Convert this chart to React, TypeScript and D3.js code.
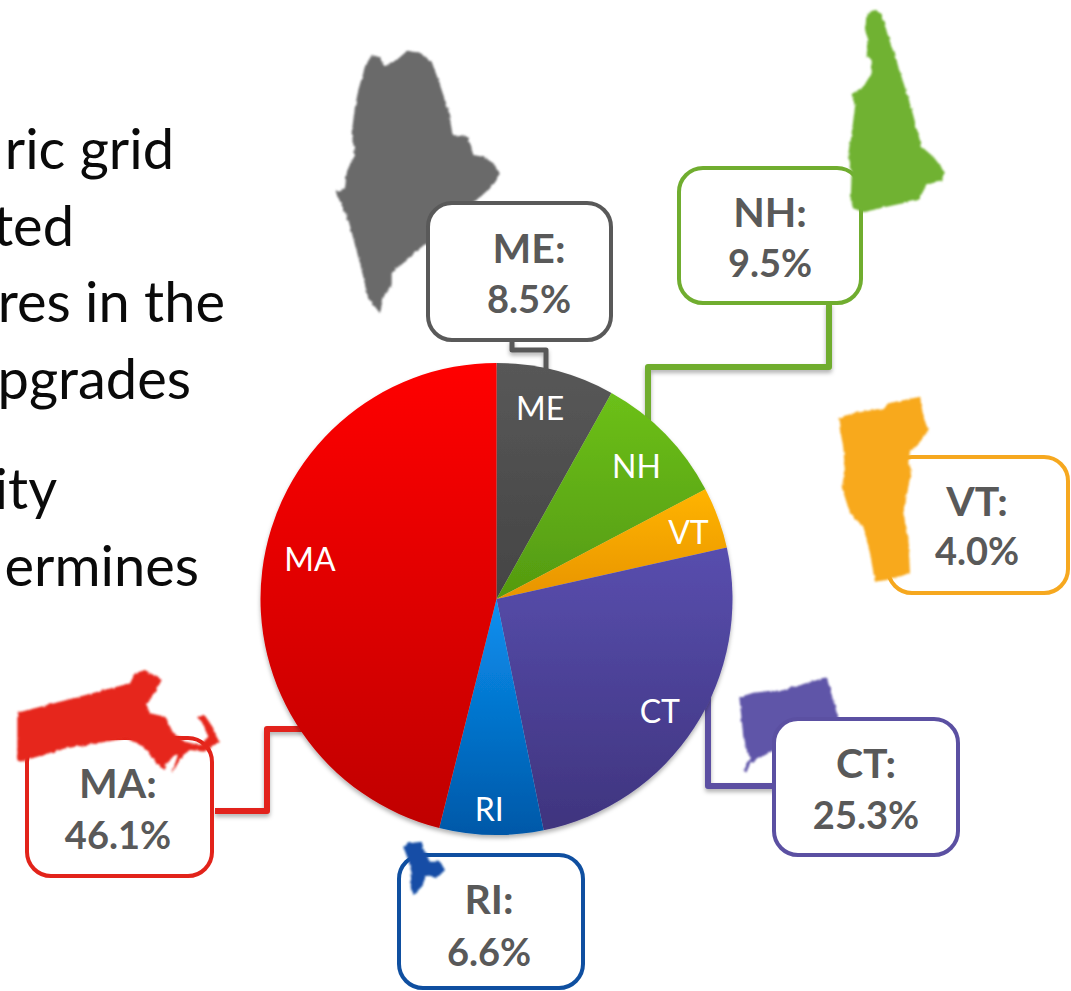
import React from "react";
import * as d3 from "d3";

const W = 1071;
const H = 991;

// chart values, clockwise from 12 o'clock
const states = ["ME", "NH", "VT", "CT", "RI", "MA"];
// slice sizes as drawn, measured off the slice edges (they differ a little from the printed labels)
const sliceValues = [8.1, 9.2, 4.2, 25.3, 7.1, 46.1];
const shareLabels = ["8.5%", "9.5%", "4.0%", "25.3%", "6.6%", "46.1%"];

// slice gradients and callout colours
const sliceTop = ["#585858", "#6cc01a", "#ffb400", "#584eae", "#0a90f0", "#ff0000"];
const sliceBottom = ["#444444", "#549a10", "#e89400", "#3f347e", "#0058a8", "#c00000"];
const lineColors = ["#595959", "#70ad2f", "#f6a81f", "#5b50a2", "#0f4fa0", "#e2231a"];
const mapColors = ["#6a6a6a", "#70b233", "#f8a91f", "#5f54a8", "#134ea6", "#e6261c"];

// callout boxes: x, y, w, h
const boxes = [
  [428, 203, 183, 137],
  [679, 168, 182, 135],
  [888, 457, 180, 136],
  [774, 719, 184, 136],
  [399, 855, 184, 133],
  [27, 738, 185, 138],
];
const boxCenters = [529, 770, 977, 866, 489, 118];
const nameBaselines = [263, 227, 516, 778, 914, 798];
const valueBaselines = [313, 277, 565, 829, 966, 849];
const mapOverBox = [false, true, true, false, true, true];

// leader lines from the pie to the box
const leaders: [number, number][][] = [
  [[512, 340], [512, 350], [546, 350], [546, 370]],
  [[829, 303], [829, 367], [648, 367], [648, 422]],
  [[722, 523], [872, 523]],
  [[708, 690], [708, 786], [778, 786]],
  [[489, 836], [489, 855]],
  [[215, 811], [267, 811], [267, 729], [302, 729]],
];
const leaderColors = ["#595959", "#70ad2f", "#f6a81f", "#5b50a2", "#1080d0", "#e2231a"];

// nudge of the in-pie labels away from the slice centroid
const labelNudge = [[-6, 0], [-1, 5], [7, 1], [-2, 5], [-3, 14], [9, -15]];

// state silhouettes, traced at 3x from the origin given in mapOrigins
const mapOrigins = [[320, 0], [820, 0], [820, 380], [700, 660], [380, 790], [0, 650]];
const mapOutlines: [number, number][][] = [
  [[155,165],[175,170],[195,197],[230,180],[262,152],[300,158],[335,185],[355,240],[385,330],[398,405],[445,412],[460,465],[490,470],[520,490],[540,520],[510,565],[470,600],[440,620],[415,650],[385,660],[375,690],[345,680],[335,720],[300,745],[270,770],[240,795],[215,820],[215,860],[190,890],[180,940],[145,895],[120,790],[85,660],[47,575],[75,565],[80,515],[105,465],[95,400],[105,320],[115,270],[135,200]],
  [[140,40],[165,30],[185,42],[205,110],[235,200],[270,310],[305,440],[340,470],[375,515],[365,540],[320,555],[295,600],[200,620],[130,637],[100,625],[92,600],[95,520],[85,460],[95,400],[105,320],[95,282],[130,260],[155,220],[155,180],[140,165],[145,120],[135,90]],
  [[55,115],[100,100],[190,85],[205,70],[300,50],[310,110],[325,150],[305,180],[270,215],[265,250],[275,270],[250,400],[265,470],[270,580],[200,600],[165,605],[150,520],[130,440],[90,400],[65,320],[75,280],[70,200],[60,150]],
  [[118,112],[160,98],[215,92],[230,95],[380,52],[415,175],[400,205],[320,235],[240,260],[150,310],[140,340],[130,330],[150,298],[130,230]],
  [[70,170],[85,160],[125,155],[135,190],[150,215],[180,215],[195,240],[170,265],[140,255],[125,290],[100,315],[92,290],[95,250],[85,210]],
  [[52,188],[200,150],[390,100],[405,70],[435,60],[485,90],[465,125],[440,165],[450,190],[495,200],[520,250],[555,275],[600,285],[625,260],[605,215],[590,200],[615,197],[640,235],[657,275],[615,305],[570,300],[550,315],[515,370],[535,312],[515,320],[490,360],[470,340],[430,290],[380,265],[200,295],[60,335],[52,330]],
];

// body text cut off by the left edge of the slide
const bodyLines = ["ric grid", "ted", "res in the", "pgrades", "ity", "ermines"];
const bodyRight = [174, 74, 225, 191, 57, 199];
const bodyBaselines = [169, 246, 322, 399, 509, 586];

const FONT = "Lato, 'Open Sans', sans-serif";
const cx = 496.5;
const cy = 599;
const radius = 236;

export default function App() {
  const pie = d3.pie<number>().sort(null).value((d) => d);
  const slices = pie(sliceValues);
  const arc = d3.arc<d3.PieArcDatum<number>>().innerRadius(0).outerRadius(radius);
  const labelArc = d3.arc<d3.PieArcDatum<number>>().innerRadius(197).outerRadius(197);
  const line = d3.line();

  const drawMap = (i: number) => (
    <path
      key={"map" + i}
      d={line(mapOutlines[i]) + "Z"}
      transform={`translate(${mapOrigins[i][0]},${mapOrigins[i][1]}) scale(${1 / 3})`}
      fill={mapColors[i]}
      filter="url(#rough)"
    />
  );

  const drawBox = (i: number) => (
    <rect
      key={"box" + i}
      x={boxes[i][0]}
      y={boxes[i][1]}
      width={boxes[i][2]}
      height={boxes[i][3]}
      rx={24}
      fill="#fff"
      stroke={lineColors[i]}
      strokeWidth={4}
    />
  );

  return (
    <svg
      width={W}
      height={H}
      viewBox={`0 0 ${W} ${H}`}
      style={{ position: "absolute", left: 0, top: 0, background: "#fff" }}
    >
      <defs>
        {states.map((s, i) => (
          <linearGradient key={s} id={"grad" + s} x1="0" y1="0" x2="0" y2="1">
            <stop offset="0" stopColor={sliceTop[i]} />
            <stop offset="1" stopColor={sliceBottom[i]} />
          </linearGradient>
        ))}
        {/* torn edge on the state shapes */}
        <filter id="rough" x="-10%" y="-10%" width="120%" height="120%">
          <feTurbulence type="fractalNoise" baseFrequency="0.06" numOctaves="2" seed="4" />
          <feDisplacementMap in="SourceGraphic" scale="10" xChannelSelector="R" yChannelSelector="G" />
          <feGaussianBlur stdDeviation="2.8" />
        </filter>
        <filter id="shadow" x="-20%" y="-20%" width="140%" height="140%">
          <feDropShadow dx="0" dy="3" stdDeviation="2" floodColor="#000" floodOpacity="0.3" />
        </filter>
      </defs>

      {bodyLines.map((t, i) => (
        <text
          key={t}
          x={bodyRight[i]}
          y={bodyBaselines[i]}
          textAnchor="end"
          fontFamily={FONT}
          fontSize={56}
          fill="#0a0a0a"
        >
          {t}
        </text>
      ))}

      {leaders.map((pts, i) => (
        <path
          key={"leader" + i}
          d={line(pts) ?? ""}
          fill="none"
          stroke={leaderColors[i]}
          strokeWidth={i === 0 ? 5 : 6}
          strokeLinejoin="round"
          filter="url(#shadow)"
        />
      ))}

      <g transform={`translate(${cx},${cy})`}>
        <g filter="url(#shadow)">
          {slices.map((d, i) => (
            <path key={states[i]} d={arc(d) ?? ""} fill={`url(#grad${states[i]})`} />
          ))}
        </g>
        {slices.map((d, i) => {
          const [x, y] = labelArc.centroid(d);
          return (
            <text
              key={states[i]}
              x={x + labelNudge[i][0]}
              y={y + labelNudge[i][1]}
              dy="0.36em"
              textAnchor="middle"
              fontFamily={FONT}
              fontSize={32}
              fill="#fff"
            >
              {states[i]}
            </text>
          );
        })}
      </g>

      {states.map((s, i) => (
        <g key={s}>
          {mapOverBox[i] ? drawBox(i) : drawMap(i)}
          {mapOverBox[i] ? drawMap(i) : drawBox(i)}
          <text
            x={boxCenters[i]}
            y={nameBaselines[i]}
            textAnchor="middle"
            fontFamily={FONT}
            fontWeight={700}
            fontSize={41}
            fill="#595959"
          >
            {s}:
          </text>
          <text
            x={boxCenters[i]}
            y={valueBaselines[i]}
            textAnchor="middle"
            fontFamily={FONT}
            fontWeight={700}
            fontSize={38}
            fill="#595959"
          >
            {shareLabels[i]}
          </text>
        </g>
      ))}
    </svg>
  );
}
